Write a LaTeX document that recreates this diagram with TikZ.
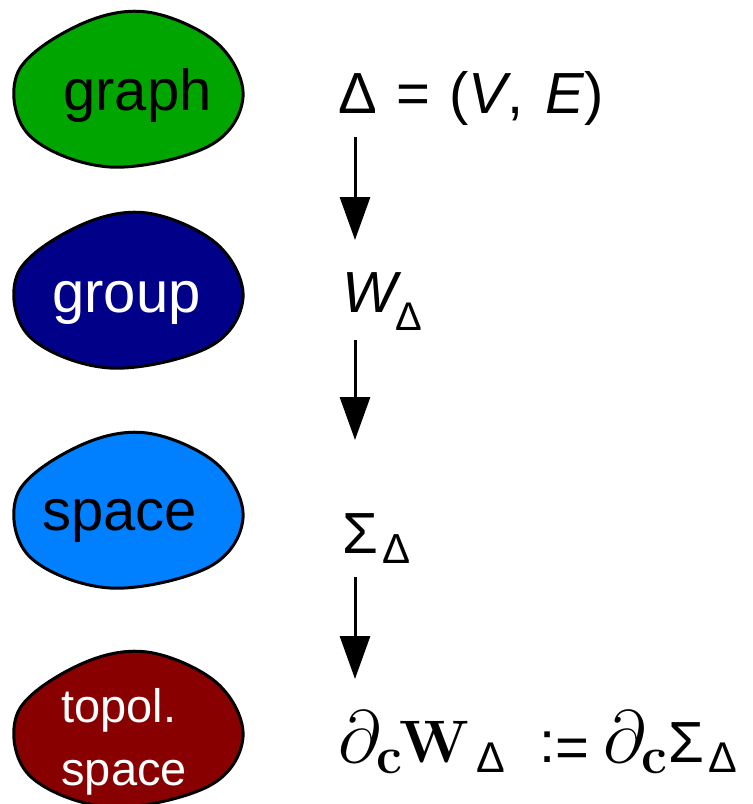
\RequirePackage{fix-cm}
\documentclass[tikz,border=0pt]{standalone}
\definecolor{graphgreen}{RGB}{0, 165, 0}
\definecolor{groupblue}{RGB}{0, 0, 136}
\definecolor{spaceblue}{RGB}{0, 128, 255}
\definecolor{topolred}{RGB}{136, 0, 0}
\usepackage{amsmath,amssymb,mathtools}
\usepackage[no-math]{fontspec}
\setmainfont{Liberation Sans}
\usepackage{tikz}
\usetikzlibrary{arrows.meta}

\begin{document}
\begin{tikzpicture}[x=0.5pt, y=-0.5pt,
    blobline/.style={draw=black, line width=1.5pt},
    pics/blob/.style={code={
        \draw[blobline, fill=#1] plot[smooth cycle, tension=0.6] coordinates {
          (18,-77) (88,-46) (114,8) (80,57) (-19,78) (-100,46) (-111,-17) (-50,-64)};
      }},
    lbl/.style={anchor=base west, inner sep=0pt, font=\fontsize{29}{31.5}\selectfont},
    formula/.style={anchor=base west, inner sep=0pt, font=\fontsize{29}{34}\selectfont},
    flow/.style={line width=1.5pt, -{Triangle[width=15pt, length=21.5pt]}}]
        \useasboundingbox (0,0) rectangle (752,804);

        % Blobs on the left
        \pic at (129,89) {blob=graphgreen};
        \pic at (129,290) {blob=groupblue};
        \pic at (129,510) {blob=spaceblue};
        \pic at (129,729) {blob=topolred};

        \node[lbl] (lgraph) at (63,110) {graph};
        \node[lbl, text=white] (lgroup) at (52,312) {group};
        \node[lbl] (lspace) at (42,530) {space};
        \node[lbl, text=white, align=left, font=\fontsize{23.5}{31.5}\selectfont] (ltopol) at (61,785) {topol.\\space};

        % Formulas on the right
        \node[formula] (fgraph) at (338,113)
          {Δ\hspace{9.5pt}=\hspace{9.5pt}(\textit{V},\hspace{11pt}\textit{E})};
        \node[formula] (fgroup) at (342,312)
          {\textit{W}\kern-3pt\raisebox{-9pt}{\fontsize{20}{24}\selectfont Δ}};
        \node[formula] (fspace) at (342,553)
          {Σ\kern2pt\raisebox{-5pt}{\fontsize{21}{24}\selectfont Δ}};

        % Boundary formula
        \node[formula] (ftopol) at (338,762)
          {{\fontsize{37}{40}\selectfont$\partial_{\mathbf{c}}$}\kern-2pt{\fontsize{30}{34}\selectfont$\mathbf{W}$}\kern3pt\raisebox{-5pt}{\fontsize{21.5}{24}\selectfont Δ}};
        \node[formula] (fdef) at (539,762) {:\raisebox{-2.5pt}{=}};
        \node[formula] (fbound) at (603,762)
          {{\fontsize{37}{40}\selectfont$\partial_{\mathbf{c}}$}Σ\kern2pt\raisebox{-5pt}{\fontsize{21.5}{24}\selectfont Δ}};

        % Arrows
        \coordinate (a1) at (355,137);
        \coordinate (b1) at (355,240);
        \coordinate (a2) at (355,340);
        \coordinate (b2) at (355,440);
        \coordinate (a3) at (355,577);
        \coordinate (b3) at (355,679);
        \draw[flow] (a1) -- (b1);
        \draw[flow] (a2) -- (b2);
        \draw[flow] (a3) -- (b3);
      \end{tikzpicture}
\end{document}
